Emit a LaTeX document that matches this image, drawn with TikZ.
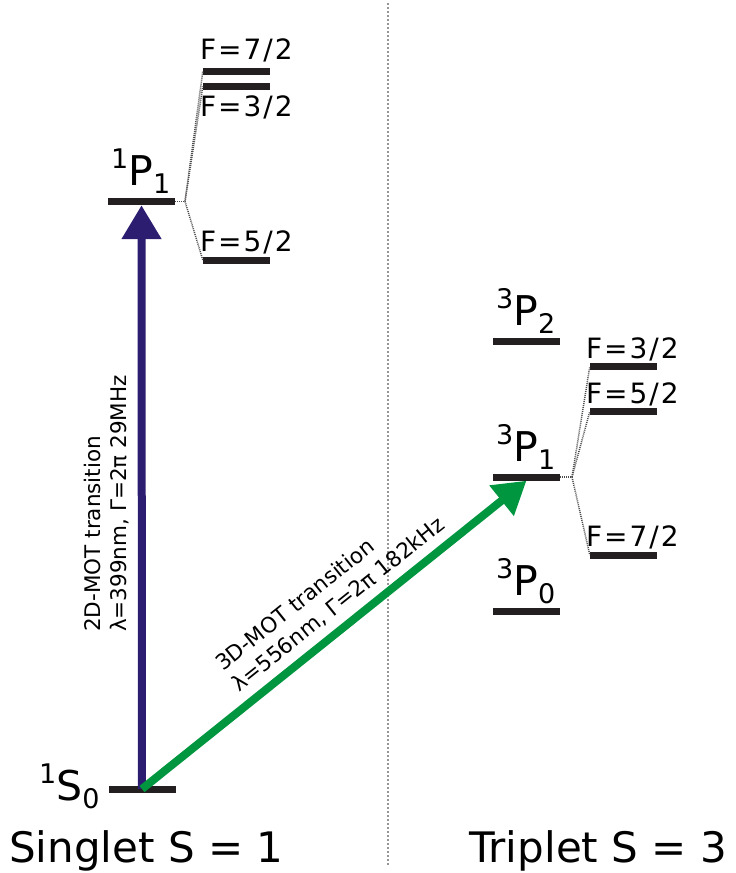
\documentclass[tikz,border=0pt]{standalone}
\usepackage{fontspec}
\setmainfont{DejaVu Sans}
\usetikzlibrary{arrows.meta}
\definecolor{barc}{RGB}{35,31,32}
\definecolor{bluec}{RGB}{44,29,112}
\definecolor{greenc}{RGB}{0,150,64}
\definecolor{divc}{RGB}{150,150,150}
\newcommand\lvlabel[3]{{\fontsize{27}{27}\selectfont\raisebox{17pt}{#1}}{\fontsize{41}{41}\selectfont #2}{\fontsize{27}{27}\selectfont\raisebox{-8pt}{#3}}}
\begin{document}
\begin{tikzpicture}[x=1pt,y=-1pt,
  levelbar/.style={rectangle, fill=barc, draw=none, inner sep=0pt, minimum width=67pt, minimum height=7pt},
  lvtext/.style={anchor=base west, inner sep=0pt, text=black},
  flab/.style={anchor=base west, inner sep=0pt, font=\fontsize{28}{28}\selectfont\addfontfeature{LetterSpace=7}},
  fanline/.style={draw=barc!80, line width=1.5pt, dash pattern=on 1pt off 1pt},
  divider/.style={draw=divc, line width=1.5pt, dash pattern=on 2pt off 2pt},
  translab/.style={anchor=base west, inner sep=0pt, font=\fontsize{21.5}{21.5}\selectfont},
  bigtext/.style={anchor=base west, inner sep=0pt, font=\fontsize{42}{42}\selectfont},
  bluearr/.style={draw=bluec, line width=8pt, -{Triangle[length=34pt,width=38pt]}},
  greenarr/.style={draw=greenc, line width=8pt, -{Triangle[length=32pt,width=37pt]}}
]
\useasboundingbox (0,0) rectangle (736,873);

% divider
\coordinate (dtop) at (388,3);
\coordinate (dbot) at (388,866);
\draw[divider] (dtop) -- (dbot);

% singlet levels
\node[levelbar] (s0) at (142,789) {};
\node[levelbar] (p1) at (141.5,201.5) {};
\node[levelbar] (sf72) at (236.5,71.5) {};
\node[levelbar] (sf32) at (236.5,86.5) {};
\node[levelbar] (sf52) at (236.5,260) {};

% triplet levels
\node[levelbar] (tp2) at (526.5,341) {};
\node[levelbar] (tp1) at (526.5,477) {};
\node[levelbar] (tp0) at (526.5,611) {};
\node[levelbar] (tf32) at (623.5,366.5) {};
\node[levelbar] (tf52) at (623.5,411.5) {};
\node[levelbar] (tf72) at (623.5,555) {};

% level labels
\node[lvtext] (ls0) at (39,800) {\lvlabel{1}{S}{0}};
\node[lvtext] (lp1) at (111,185.5) {\lvlabel{1}{P}{1}};
\node[lvtext] (ltp2) at (496,325) {\lvlabel{3}{P}{2}};
\node[lvtext] (ltp1) at (496,461) {\lvlabel{3}{P}{1}};
\node[lvtext] (ltp0) at (496,595) {\lvlabel{3}{P}{0}};

% hyperfine labels
\node[flab] (lsf72) at (200,59) {F=7/2};
\node[flab] (lsf32) at (200,116) {F=3/2};
\node[flab] (lsf52) at (200,251.5) {F=5/2};
\node[flab] (ltf32) at (586,358) {F=3/2};
\node[flab] (ltf52) at (586,403) {F=5/2};
\node[flab] (ltf72) at (586,546.5) {F=7/2};

% fan connectors
\coordinate (sfan) at (185,201.5);
\draw[fanline] (p1.east) -- (sfan);
\draw[fanline] (sfan) -- (sf72.west);
\draw[fanline] (sfan) -- (sf32.west);
\draw[fanline] (sfan) -- (sf52.west);
\coordinate (tfan) at (572,477);
\draw[fanline] (tp1.east) -- (tfan);
\draw[fanline] (tfan) -- (tf32.west);
\draw[fanline] (tfan) -- (tf52.west);
\draw[fanline] (tfan) -- (tf72.west);

% transitions
\draw[bluearr] (s0.center) -- (p1.south);
\draw[greenarr] (s0.center) -- (tp1.south);

% transition labels
\node[translab, rotate=90] (b1) at (100,632) {2D-MOT transition};
\node[translab, rotate=90] (b2) at (126,632) {λ=399nm, Γ=2π 29MHz};
\node[translab, rotate=38.7] (g1) at (223,672) {3D-MOT transition};
\node[translab, rotate=38.7] (g2) at (239.5,692.5) {λ=556nm, Γ=2π 182kHz};

% bottom captions
\node[bigtext] (sing) at (9,862) {Singlet S = 1};
\node[bigtext] (trip) at (469,862) {Triplet S = 3};
\end{tikzpicture}
\end{document}
